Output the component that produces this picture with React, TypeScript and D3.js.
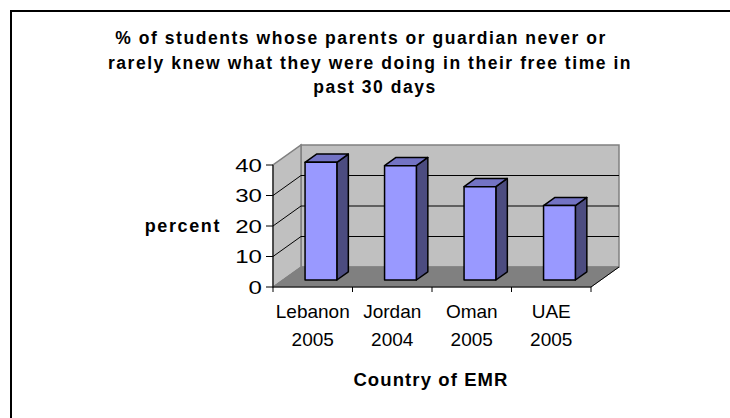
import React from "react";
import * as d3 from "d3";

const countries = ["Lebanon", "Jordan", "Oman", "UAE"];
const years = ["2005", "2004", "2005", "2005"];
const values = [38.6, 37.5, 30.6, 24.4];
const yTicks = [0, 10, 20, 30, 40];
const titleLines = [
  "% of students whose parents or guardian never or",
  "rarely knew what they were doing in their free time in",
  "past 30 days",
];
const yAxisTitle = "percent";
const xAxisTitle = "Country of EMR";

const W = 730;
const H = 418;

export default function App() {
  const x = d3.scaleLinear().domain([0, countries.length]).range([273, 591]);
  const y = d3.scaleLinear().domain([0, 40]).range([287, 165]);
  const DX = 28;
  const DY = 20;
  const z0 = 0.35;
  const z1 = 0.76;
  const b0 = 0.28;
  const b1 = 0.68;

  const P = (u: number, v: number, z: number): [number, number] => [
    x(u) + z * DX,
    y(v) - z * DY,
  ];
  const poly = (pts: [number, number][]) =>
    pts.map((p) => p.map((n) => n.toFixed(2)).join(",")).join(" ");

  const n = countries.length;
  const fontFamily = "'Liberation Sans', Arial, sans-serif";

  return (
    <svg
      width={W}
      height={H}
      style={{ position: "absolute", left: 0, top: 0, background: "#fff", overflow: "hidden" }}
      fontFamily={fontFamily}
    >
      <rect x={11} y={11} width={W + 50} height={H + 50} fill="#fff" stroke="#000" strokeWidth={2} />

      {titleLines.map((t, i) => (
        <text
          key={i}
          x={[361, 370, 375][i]}
          y={44 + i * 24.5}
          textAnchor="middle"
          fontSize={17.5}
          fontWeight="bold"
          letterSpacing={1.55}
        >
          {t}
        </text>
      ))}

      {/* back wall */}
      <polygon
        points={poly([P(0, 0, 1), P(n, 0, 1), P(n, 40, 1), P(0, 40, 1)])}
        fill="#C0C0C0"
        stroke="#808080"
        strokeWidth={1.5}
      />
      {/* side wall */}
      <polygon
        points={poly([P(0, 0, 0), P(0, 0, 1), P(0, 40, 1), P(0, 40, 0)])}
        fill="#C0C0C0"
        stroke="#808080"
        strokeWidth={1.5}
      />
      {/* floor */}
      <polygon
        points={poly([P(0, 0, 0), P(n, 0, 0), P(n, 0, 1), P(0, 0, 1)])}
        fill="#808080"
        stroke="#808080"
        strokeWidth={1}
      />
      {/* gridlines */}
      {yTicks
        .filter((t) => t > 0 && t < 40)
        .map((t) => {
          const a = P(0, t, 0);
          const b = P(0, t, 1);
          const c = P(n, t, 1);
          return (
            <polyline
              key={t}
              points={poly([a, b, c])}
              fill="none"
              stroke="#000"
              strokeWidth={1}
            />
          );
        })}
      {/* floor front-right edge */}
      <line
        x1={P(n, 0, 0)[0]}
        y1={P(n, 0, 0)[1]}
        x2={P(n, 0, 1)[0]}
        y2={P(n, 0, 1)[1]}
        stroke="#000"
        strokeWidth={1}
      />

      {/* bars */}
      {values.map((v, i) => {
        const l = i + b0;
        const r = i + b1;
        const front = [P(l, 0, z0), P(r, 0, z0), P(r, v, z0), P(l, v, z0)];
        const side = [P(r, 0, z0), P(r, 0, z1), P(r, v, z1), P(r, v, z0)];
        const top = [P(l, v, z0), P(r, v, z0), P(r, v, z1), P(l, v, z1)];
        return (
          <g key={i} stroke="#000" strokeWidth={1.5} strokeLinejoin="round">
            <polygon points={poly(side)} fill="#4C4C80" />
            <polygon points={poly(top)} fill="#7373C4" />
            <polygon points={poly(front)} fill="#9999FF" />
          </g>
        );
      })}

      {/* y axis */}
      <line x1={x(0)} y1={y(0)} x2={x(0)} y2={y(40)} stroke="#000" strokeWidth={1} />
      {yTicks.map((t) => (
        <g key={t}>
          <line x1={x(0) - 7} y1={y(t)} x2={x(0)} y2={y(t)} stroke="#000" strokeWidth={1} />
          <text
            transform={`translate(${x(0) - 11},${y(t) + 6.8}) scale(1.3,1)`}
            textAnchor="end"
            fontSize={18.5}
          >
            {t}
          </text>
        </g>
      ))}
      {/* x axis */}
      <line x1={x(0)} y1={y(0)} x2={x(n)} y2={y(0)} stroke="#000" strokeWidth={1} />
      {d3.range(n + 1).map((i) => (
        <line key={i} x1={x(i)} y1={y(0)} x2={x(i)} y2={y(0) + 5} stroke="#000" strokeWidth={1} />
      ))}
      {countries.map((c, i) => (
        <g key={c}>
          <text x={x(i + 0.5)} y={318} textAnchor="middle" fontSize={19}>
            {c}
          </text>
          <text x={x(i + 0.5)} y={345.5} textAnchor="middle" fontSize={19}>
            {years[i]}
          </text>
        </g>
      ))}

      <text x={221} y={232} textAnchor="end" fontSize={18} fontWeight="bold" letterSpacing={1.6}>
        {yAxisTitle}
      </text>
      <text x={431} y={386} textAnchor="middle" fontSize={18.5} fontWeight="bold" letterSpacing={1.1}>
        {xAxisTitle}
      </text>
    </svg>
  );
}
